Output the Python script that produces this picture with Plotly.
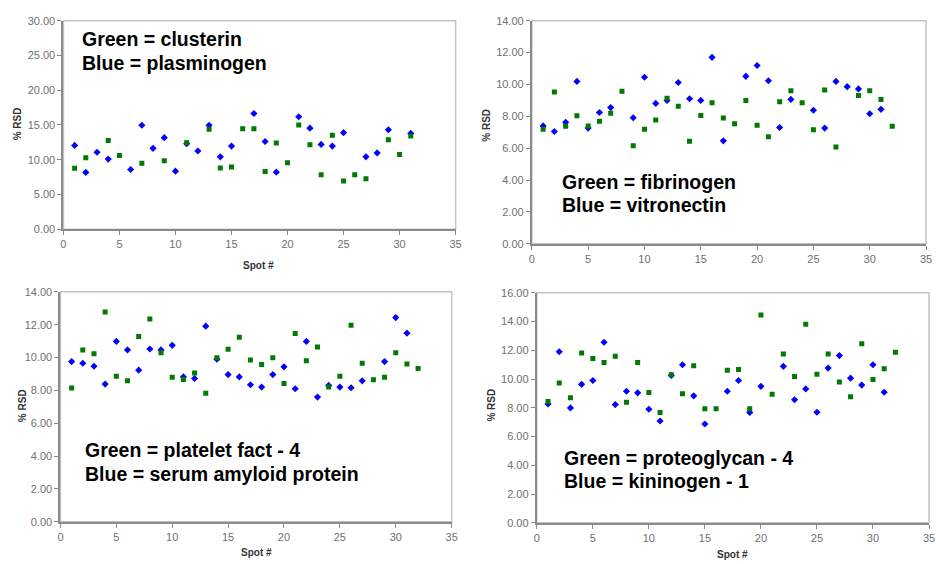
import plotly.graph_objects as go

N = None
spots = list(range(1, 33))

# Panel 1: Green = clusterin, Blue = plasminogen
clusterin = [8.77, 10.27, N, 12.75, 10.6, N, 9.47, N, 9.84, N, 12.42, N, 14.39, 8.81, 8.95, 14.44,
             14.44, 8.3, 12.38, 9.56, 15.0, 12.14, 7.83, 13.5, 6.94, 7.83, 7.27, N, 12.85, 10.74, 13.41, N]
plasminogen = [12.05, 8.16, 11.06, 10.08, N, 8.58, 14.95, 11.63, 13.17, 8.34, 12.3, 11.25, 14.95, 10.41, 11.95, N,
               16.64, 12.61, 8.2, N, 16.17, 14.53, 12.19, 11.95, 13.88, N, 10.41, 10.97, 14.3, N, 13.78, N]

# Panel 2: Green = fibrinogen, Blue = vitronectin
fibrinogen = [7.19, 9.53, 7.38, 8.03, 7.40, 7.69, 8.2, 9.57, 6.15, 7.19, 7.77, 9.14, 8.63, 6.44, 8.05, 8.85,
              7.89, 7.54, 9.0, 7.44, 6.72, 8.92, 9.61, 8.85, 7.15, 9.65, 6.07, N, 9.31, 9.61, 9.06, 7.38]
vitronectin = [7.40, 7.05, 7.62, 10.19, 7.26, 8.24, 8.55, N, 7.91, 10.45, 8.81, 9.0, 10.12, 9.1, 9.0, 11.70,
               6.46, N, 10.51, 11.19, 10.23, 7.30, 9.06, N, 8.38, 7.26, 10.19, 9.86, 9.72, 8.16, 8.44, N]

# Panel 3: Green = platelet fact - 4, Blue = serum amyloid protein
platelet = [8.14, 10.46, 10.23, 12.77, 8.86, 8.58, 11.28, 12.35, 10.29, 8.80, 8.66, 9.05, 7.82, 9.99, 10.5, 11.23,
            9.85, 9.57, 9.99, 8.42, 11.46, 9.81, 10.64, 8.2, 8.86, 11.97, 9.65, 8.64, 8.80, 10.29, 9.61, 9.33]
amyloid = [9.75, 9.65, 9.47, 8.38, 10.98, 10.46, 9.23, 10.52, 10.46, 10.74, 8.82, 8.72, 11.91, 9.9, 8.96, 8.82,
           8.34, 8.2, 8.96, 9.43, 8.10, 10.98, 7.59, 8.30, 8.2, 8.16, 8.58, N, 9.75, 12.43, 11.48, N]

# Panel 4: Green = proteoglycan - 4, Blue = kininogen - 1
proteoglycan = [8.44, 9.72, 8.69, 11.81, 11.42, 11.15, 11.58, 8.38, 11.15, 9.06, 7.67, 10.29, 8.97, 10.92, 7.94, 7.94,
                10.61, 10.67, 7.94, 14.45, 8.94, 11.74, 10.17, 13.81, 10.33, 11.74, 9.79, 8.76, 12.45, 9.97, 10.72, 11.86]
kininogen = [8.26, 11.9, 7.99, 9.63, 9.9, 12.56, 8.22, 9.15, 9.04, 7.9, 7.08, 10.25, 10.99, 8.83, 6.87, N,
             9.15, 9.9, 7.67, 9.49, N, 10.88, 8.56, 9.31, 7.69, 10.76, 11.63, 10.06, 9.58, 10.99, 9.08, N]

green_labels = ["Green = clusterin", "Green = fibrinogen", "Green = platelet fact - 4", "Green = proteoglycan - 4"]
blue_labels = ["Blue = plasminogen", "Blue = vitronectin", "Blue = serum amyloid protein", "Blue = kininogen - 1"]
y_max = [30, 14, 14, 16]
y_step = [5, 2, 2, 2]
x_ticks = [0, 5, 10, 15, 20, 25, 30, 35]

W, H = 936, 564
FONT = "Liberation Sans, Arial, sans-serif"

def px(x):
    return x / W

def py(y):
    return 1 - y / H

# plot-area boxes in pixels: (left, right, top, bottom)
boxes = [(61, 457, 15, 228), (534, 932, 15, 243), (58, 453, 292, 527), (539, 935, 293, 528)]
text_pos = [(78, 34, 58), (562, 180, 203), (81, 454, 478), (564, 462, 485)]
ytitle_pos = [(15, 120), (488, 122), (20, 408), (493, 408)]
xtitle_pos = [(258, 265), None, (256, 558), (737, 560)]

greens = [clusterin, fibrinogen, platelet, proteoglycan]
blues = [plasminogen, vitronectin, amyloid, kininogen]

fig = go.Figure()
annotations = []
shapes = []
for i in range(4):
    xa = "x" if i == 0 else f"x{i+1}"
    ya = "y" if i == 0 else f"y{i+1}"
    fig.add_trace(go.Scatter(x=spots, y=blues[i], mode="markers", xaxis=xa, yaxis=ya,
                             marker=dict(symbol="diamond", size=5.5, color="#0000ff"), showlegend=False))
    fig.add_trace(go.Scatter(x=spots, y=greens[i], mode="markers", xaxis=xa, yaxis=ya,
                             marker=dict(symbol="square", size=5, color="#007a00"), showlegend=False))
    l, r, t, b = boxes[i]
    axkey = "xaxis" if i == 0 else f"xaxis{i+1}"
    aykey = "yaxis" if i == 0 else f"yaxis{i+1}"
    fig.layout[axkey] = dict(domain=[px(l), px(r)], range=[0, 35], tickvals=x_ticks, anchor=ya,
                             showgrid=False, zeroline=False, showline=True, linecolor="#8a8a8a", linewidth=2,
                             ticks="outside", ticklen=4, tickcolor="#8a8a8a", tickwidth=1,
                             tickfont=dict(family=FONT, size=11, color="#707070"))
    yt = list(range(0, y_max[i] + 1, y_step[i]))
    fig.layout[aykey] = dict(domain=[py(b), py(t)], range=[0, y_max[i]], tickvals=yt,
                             ticktext=[f"{v:.2f}" for v in yt], anchor=xa,
                             showgrid=False, zeroline=False, showline=True, linecolor="#8a8a8a", linewidth=2,
                             ticks="outside", ticklen=4, tickcolor="#8a8a8a", tickwidth=1,
                             tickfont=dict(family=FONT, size=11, color="#707070"))
    shapes.append(dict(type="rect", xref="paper", yref="paper", x0=px(l), x1=px(r), y0=py(b), y1=py(t),
                       line=dict(color="#c4c4c4", width=1.5), layer="below"))
    tx, ty1, ty2 = text_pos[i]
    annotations.append(dict(x=px(tx), y=py(ty1), xref="paper", yref="paper", xanchor="left", yanchor="middle",
                            text=green_labels[i], showarrow=False,
                            font=dict(family=FONT, size=19.5, color="#000000", weight="bold")))
    annotations.append(dict(x=px(tx), y=py(ty2), xref="paper", yref="paper", xanchor="left", yanchor="middle",
                            text=blue_labels[i], showarrow=False,
                            font=dict(family=FONT, size=19.5, color="#000000", weight="bold")))
    yx, yy = ytitle_pos[i]
    annotations.append(dict(x=px(yx), y=py(yy), xref="paper", yref="paper", xanchor="center", yanchor="middle",
                            text="% RSD", textangle=-90, showarrow=False,
                            font=dict(family=FONT, size=10, color="#333333", weight="bold")))
    if xtitle_pos[i] is not None:
        xx, xy = xtitle_pos[i]
        annotations.append(dict(x=px(xx), y=py(xy), xref="paper", yref="paper", xanchor="center", yanchor="middle",
                                text="Spot #", showarrow=False,
                                font=dict(family=FONT, size=10, color="#333333", weight="bold")))

fig.update_layout(width=W, height=H, margin=dict(l=0, r=0, t=0, b=0),
                  paper_bgcolor="white", plot_bgcolor="white",
                  annotations=annotations, shapes=shapes, showlegend=False)

fig.write_html("out.html")
